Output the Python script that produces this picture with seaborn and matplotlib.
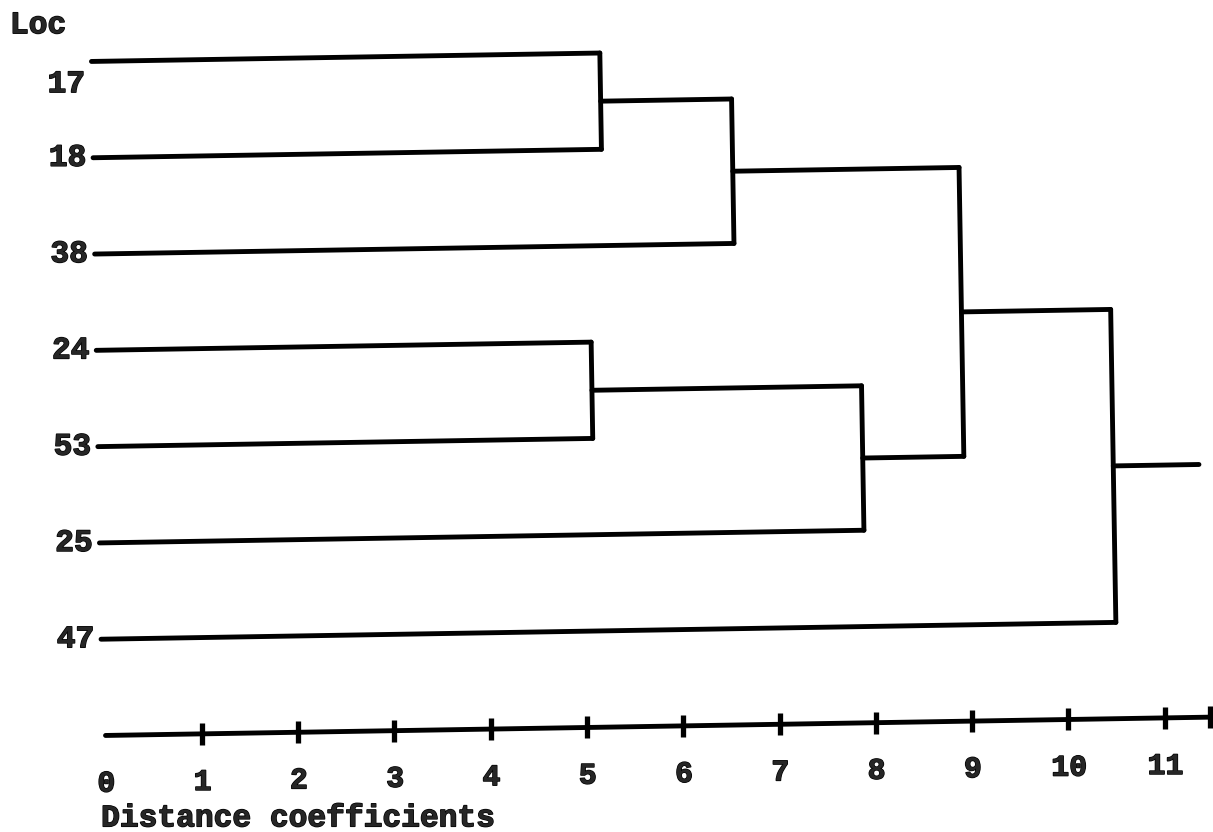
import matplotlib
matplotlib.use("Agg")
import matplotlib.pyplot as plt
import matplotlib.patheffects as pe
from matplotlib.transforms import Affine2D
import numpy as np
import pandas as pd
import seaborn as sns

# ---------------- data ----------------
leaf_labels = ["17", "18", "38", "24", "53", "25", "47"]
# merges: (child a, child b, distance); leaves are 0..6, new nodes 7, 8, ...
merge_a = [0, 7, 3, 9, 8, 11]
merge_b = [1, 2, 4, 5, 10, 6]
merge_dist = [5.25, 6.61, 5.11, 7.91, 8.96, 10.51]
root_end = 11.40
tick_values = [0, 1, 2, 3, 4, 5, 6, 7, 8, 9, 10, 11]
axis_label = "Distance coefficients"
y_title = "Loc"

# ---------------- styling ----------------
sns.set_theme(style="white")
plt.rcParams["font.family"] = ["Liberation Mono", "DejaVu Sans Mono"]
plt.rcParams["font.weight"] = "bold"
FS = 22.5
TICK_FS = 21.5
LW = 3.5
ROT = 0.95  # slight tilt of the scanned page
heavy = [pe.withStroke(linewidth=1.0, foreground="black")]

fig = plt.figure(figsize=(12.13, 8.32), dpi=100)
ax = fig.add_axes([0, 0, 1, 1])
ax.set_xlim(-1.0415, 11.555)
ax.set_ylim(8.089, -0.550)
ax.axis("off")
tr = ax.transData + Affine2D().rotate_deg_around(606, 416, ROT)

# ---------------- dendrogram geometry ----------------
n = len(leaf_labels)
node_y = {i: float(i) for i in range(n)}
node_x = {i: -0.03 for i in range(n)}
segs = []
sid = 0
for k, (a, b, d) in enumerate(zip(merge_a, merge_b, merge_dist)):
    new = n + k
    for c in (a, b):
        segs.append((sid, node_x[c], node_y[c])); segs.append((sid, d, node_y[c])); sid += 1
    segs.append((sid, d, node_y[a])); segs.append((sid, d, node_y[b])); sid += 1
    node_y[new] = (node_y[a] + node_y[b]) / 2
    node_x[new] = d
root = n + len(merge_dist) - 1
segs.append((sid, node_x[root], node_y[root])); segs.append((sid, root_end, node_y[root])); sid += 1
# distance axis line
axis_y = n
segs.append((sid, tick_values[0], axis_y)); segs.append((sid, 11.47, axis_y)); sid += 1

df = pd.DataFrame(segs, columns=["seg", "x", "y"])
sns.lineplot(data=df, x="x", y="y", units="seg", estimator=None, sort=False,
             color="black", lw=LW, legend=False, ax=ax, solid_capstyle="round")

# tick marks
tick_x = tick_values[1:] + [11.47]
ax.plot(tick_x, [axis_y] * len(tick_x), ls="none", marker="|", ms=16, mew=3.8,
        color="black")

for line in ax.lines:
    line.set_transform(tr)

# ---------------- text ----------------
label_dy = [0.235, 0, 0, 0, 0, 0, 0]
for i, lab in enumerate(leaf_labels):
    ax.text(-0.1, i + label_dy[i], lab, ha="right", va="center", fontsize=FS,
            fontweight="bold", transform=tr, path_effects=heavy)
for t in tick_values:
    ax.text(t, axis_y + 0.5, str(t), ha="center", va="center", fontsize=TICK_FS,
            fontweight="bold", transform=tr, path_effects=heavy)
ax.text(-0.06, axis_y + 0.86, axis_label, ha="left", va="center", fontsize=FS,
        fontweight="bold", transform=tr, path_effects=heavy)
ax.text(-0.87, -0.39, y_title, ha="left", va="center", fontsize=FS,
        fontweight="bold", transform=tr, path_effects=heavy)

fig.savefig("out.png", dpi=100)
